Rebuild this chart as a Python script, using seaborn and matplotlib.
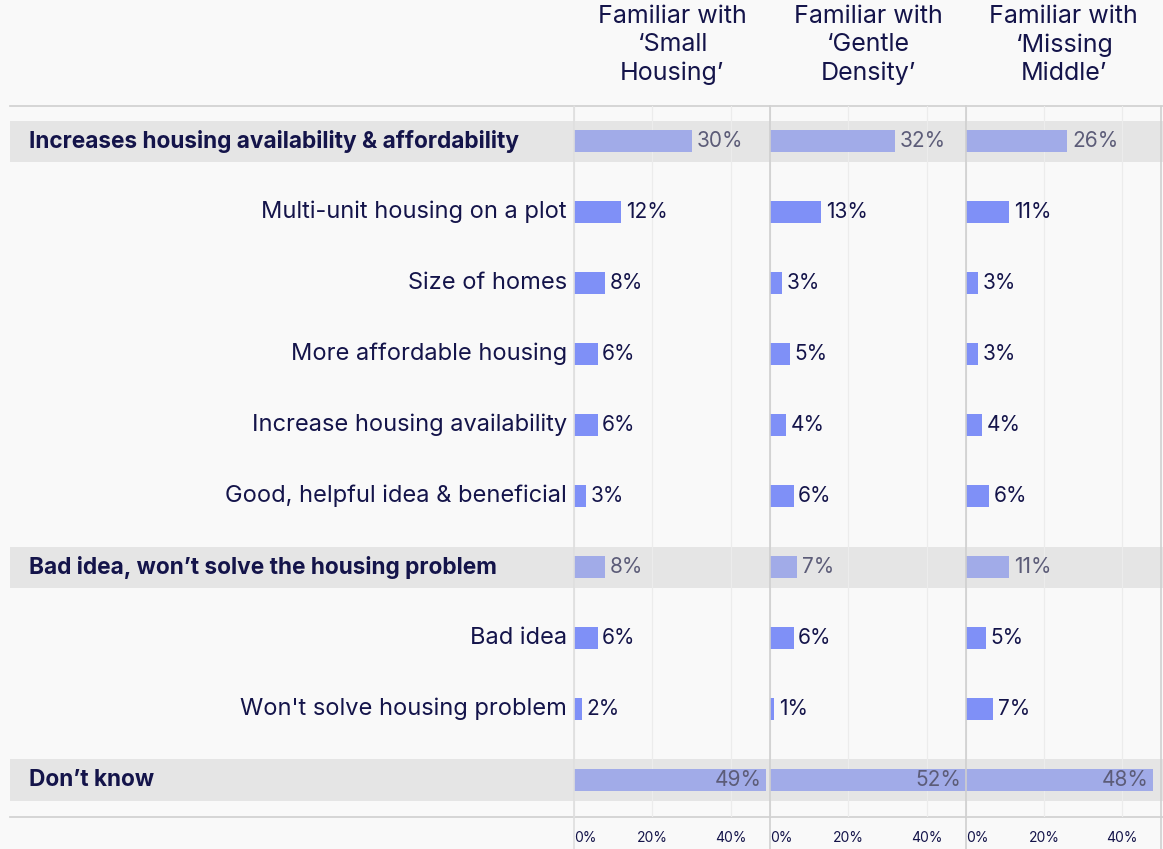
import matplotlib
matplotlib.use("Agg")
import matplotlib.pyplot as plt
import seaborn as sns
import pandas as pd

# Rows of the chart, top to bottom
rows = [
    "Increases housing availability & affordability",
    "Multi-unit housing on a plot",
    "Size of homes",
    "More affordable housing",
    "Increase housing availability",
    "Good, helpful idea & beneficial",
    "Bad idea, won’t solve the housing problem",
    "Bad idea",
    "Won't solve housing problem",
    "Don’t know",
]
is_group = [True, False, False, False, False, False, True, False, False, True]

panels = ["Familiar with\n‘Small\nHousing’",
          "Familiar with\n‘Gentle\nDensity’",
          "Familiar with\n‘Missing\nMiddle’"]
small_housing = [30, 12, 8, 6, 6, 3, 8, 6, 2, 49]
gentle_density = [32, 13, 3, 5, 4, 6, 7, 6, 1, 52]
missing_middle = [26, 11, 3, 3, 4, 6, 11, 5, 7, 48]
series = [small_housing, gentle_density, missing_middle]

x_ticks = [0, 20, 40]
x_ticklabels = ["0%", "20%", "40%"]

NAVY = "#14144a"
GREY_TXT = "#5c5c78"
BAR_SUB = "#7f90f7"
BAR_GRP = "#a1abe8"
BAND = "#e5e5e5"
BG = "#f9f9f9"
LINE = "#cfcfcf"

sns.set_theme(style="white")
plt.rcParams["font.family"] = ["Inter", "DejaVu Sans"]

W, H = 1163, 849
fig = plt.figure(figsize=(W / 100, H / 100), dpi=100, facecolor=BG)


def px_axes(x0, y0, x1, y1, **kw):
    return fig.add_axes([x0 / W, 1 - y1 / H, (x1 - x0) / W, (y1 - y0) / H], **kw)


ylim = (len(rows) - 1 + 0.52, -0.495)

# background axes: bands, row labels, top/bottom rules
bg = px_axes(10, 106, 1163, 817)
bg.set_facecolor(BG)
bg.set_xlim(10, 1163)
bg.set_ylim(*ylim)
bg.set_xticks([])
bg.set_yticks([])
for side in ["left", "right"]:
    bg.spines[side].set_visible(False)
for side in ["top", "bottom"]:
    bg.spines[side].set_color(LINE)
    bg.spines[side].set_linewidth(1.2)

for i, (label, grp) in enumerate(zip(rows, is_group)):
    if grp:
        bg.axhspan(i - 0.29, i + 0.29, color=BAND, lw=0, zorder=0)
        bg.text(29, i, label, ha="left", va="center", fontsize=16.3,
                fontweight="bold", color=NAVY)
    else:
        bg.text(567, i, label, ha="right", va="center", fontsize=17,
                color=NAVY)

panel_x = [574, 770, 966, 1161]
for k in range(3):
    ax = px_axes(panel_x[k], 106, panel_x[k + 1], 817)
    ax.patch.set_alpha(0)
    df = pd.DataFrame({
        "row": rows,
        "value": series[k],
        "kind": ["group" if g else "sub" for g in is_group],
    })
    sns.barplot(data=df, y="row", x="value", hue="kind", order=rows,
                palette={"group": BAR_GRP, "sub": BAR_SUB}, dodge=False,
                width=0.31, orient="h", legend=False, ax=ax, zorder=3,
                linewidth=0, saturation=1)
    ax.set_xlim(0, 50)
    ax.set_ylim(*ylim)
    ax.set_xlabel("")
    ax.set_ylabel("")
    ax.set_yticks([])
    ax.set_xticks(x_ticks)
    ax.set_xticklabels(x_ticklabels, fontsize=10, color=NAVY)
    ax.get_xticklabels()[0].set_ha("left")
    ax.tick_params(axis="x", length=0, pad=10)
    ax.xaxis.grid(True, color="#ececec", lw=0.9)
    ax.set_axisbelow(True)
    for s in ax.spines.values():
        s.set_visible(False)
    ax.axvline(0, ymin=-0.045, ymax=1, color=LINE if k else "#dedede",
               lw=1.2, clip_on=False, zorder=4)
    if k == 2:
        ax.axvline(50, ymin=-0.045, ymax=1, color=LINE, lw=1.2,
                   clip_on=False, zorder=4)

    for i, (v, grp) in enumerate(zip(series[k], is_group)):
        col = GREY_TXT if grp else NAVY
        if v > 45:
            ax.text(min(v, 50) - 1.2, i, f"{v}%", ha="right", va="center",
                    fontsize=15, color=col, zorder=5)
        else:
            ax.text(v + 1.2, i, f"{v}%", ha="left", va="center",
                    fontsize=15, color=col, zorder=5)

    fig.text((panel_x[k] + panel_x[k + 1]) / 2 / W, 1 - 5 / H, panels[k],
             ha="center", va="top", fontsize=18, color=NAVY,
             linespacing=1.3)

fig.savefig("out.png", dpi=100, facecolor=BG)
